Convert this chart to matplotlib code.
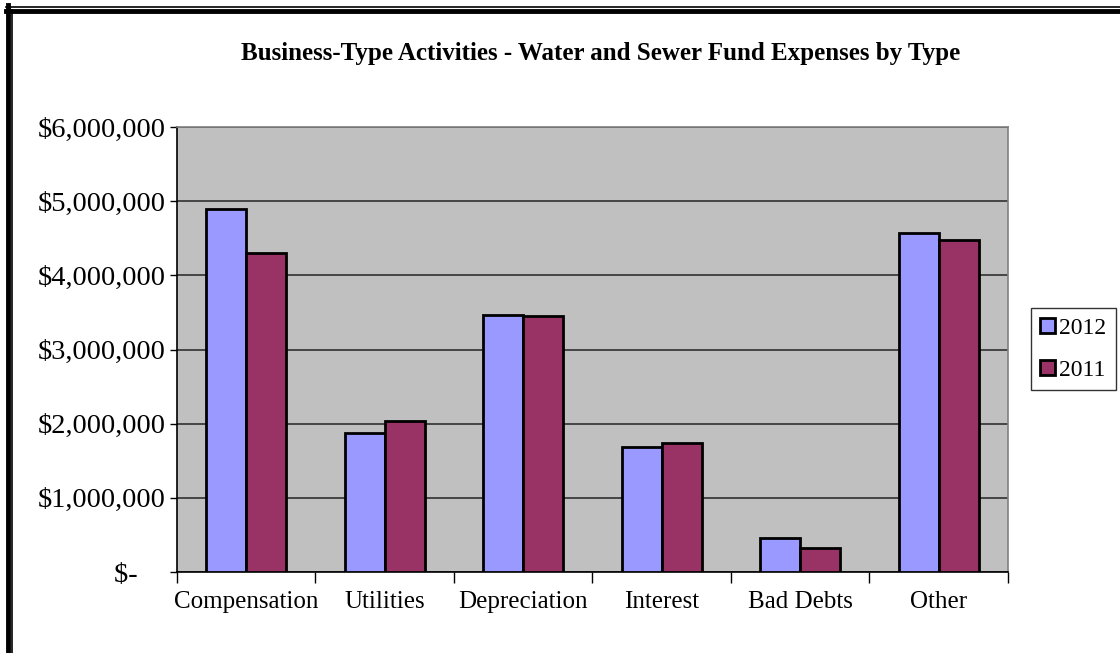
import numpy as np
import matplotlib.pyplot as plt
from matplotlib.ticker import FuncFormatter
from matplotlib.lines import Line2D

plt.rcParams['font.family'] = ['Liberation Serif', 'DejaVu Serif']

categories = ['Compensation', 'Utilities', 'Depreciation', 'Interest', 'Bad Debts', 'Other']
y2012 = [4890000, 1875000, 3465000, 1690000, 460000, 4570000]
y2011 = [4300000, 2035000, 3450000, 1745000, 330000, 4480000]

fig = plt.figure(figsize=(11.2, 6.53), dpi=100)
ax = fig.add_axes([0.158, 0.124, 0.742, 0.6815])
ax.set_facecolor('#C0C0C0')

x = np.arange(len(categories))
w = 0.29
ax.bar(x - w / 2, y2012, w, color='#9999FF', edgecolor='black', linewidth=2, label='2012', zorder=3)
ax.bar(x + w / 2, y2011, w, color='#993366', edgecolor='black', linewidth=2, label='2011', zorder=3)

ax.set_xlim(-0.5, len(categories) - 0.5)
ax.set_ylim(0, 6000000)
ax.set_yticks(np.arange(0, 6000001, 1000000))
# accounting style: zero shown as "$-" with trailing padding
ax.yaxis.set_major_formatter(FuncFormatter(lambda v, p: '$-' + ' ' * 4 if v == 0 else '${:,.0f}'.format(v)))
ax.grid(axis='y', color='#303030', linewidth=1.2, zorder=1)

ax.set_xticks(np.arange(-0.5, len(categories), 1.0))
ax.set_xticklabels([])
ax.set_xticks(x, minor=True)
ax.set_xticklabels(categories, minor=True)
ax.tick_params(axis='x', which='major', length=8, width=1, color='black')
ax.tick_params(axis='x', which='minor', length=0, pad=14, labelsize=18)
ax.tick_params(axis='y', length=5, width=1, labelsize=20.5, pad=3)

ax.spines['left'].set_color('black')
ax.spines['bottom'].set_color('black')
ax.spines['top'].set_color('#808080')
ax.spines['right'].set_color('#808080')
for s in ax.spines.values():
    s.set_linewidth(1.2)

fig.text(0.536, 0.918, 'Business-Type Activities - Water and Sewer Fund Expenses by Type',
         ha='center', va='center', fontsize=18, fontweight='bold')

leg = fig.legend(loc='center left', bbox_to_anchor=(0.91, 0.465), fontsize=17,
                 frameon=True, fancybox=False, edgecolor='black', handlelength=0.6,
                 handleheight=0.6, handletextpad=0.2, borderpad=0.4, labelspacing=0.9)
leg.get_frame().set_linewidth(1)

# double border around the chart
fig.add_artist(Line2D([6 / 1120, 1], [1 - 6.5 / 653] * 2, color='black', linewidth=1.2))
fig.add_artist(Line2D([6 / 1120, 1], [1 - 10.5 / 653] * 2, color='black', linewidth=3.5))
fig.add_artist(Line2D([8 / 1120] * 2, [0, 1 - 5 / 653], color='black', linewidth=3.5))
fig.add_artist(Line2D([11.5 / 1120] * 2, [0, 1 - 10 / 653], color='black', linewidth=1.2))

fig.savefig('out.png', dpi=100)
